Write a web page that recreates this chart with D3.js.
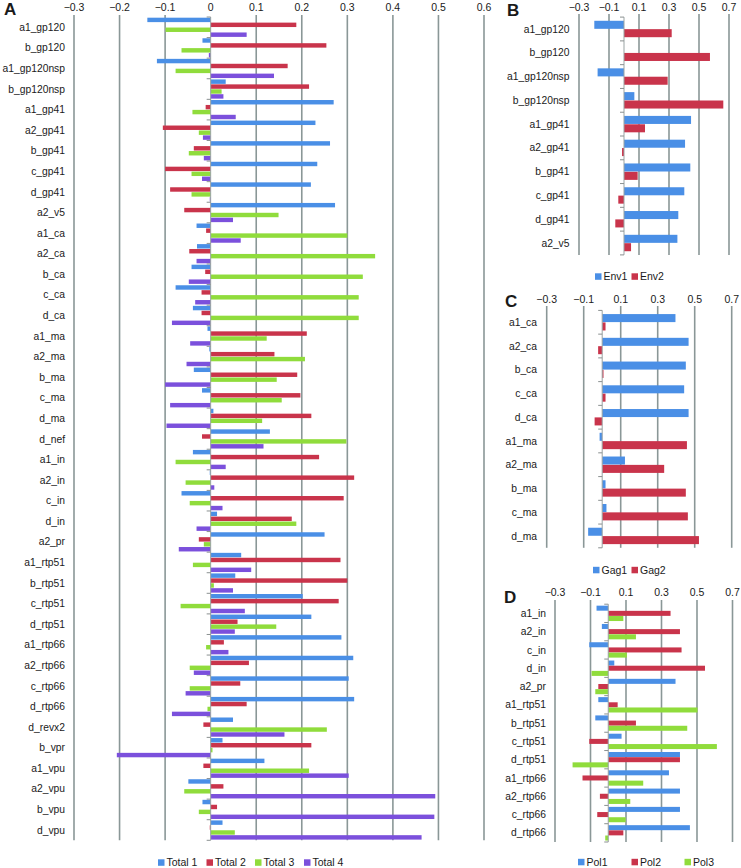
<!DOCTYPE html>
<html>
<head>
<meta charset="utf-8">
<script src="https://cdn.jsdelivr.net/npm/d3@7"></script>
<style>
  html, body { margin: 0; padding: 0; background: #fff; }
  svg { display: block; }
  text { font-family: "Liberation Sans", Arial, sans-serif; fill: #1a1a1a; }
</style>
</head>
<body>
<svg id="chart" width="741" height="868"></svg>
<script>
// ---------- Panel A ----------
const catsA = ["a1_gp120","b_gp120","a1_gp120nsp","b_gp120nsp","a1_gp41","a2_gp41","b_gp41","c_gp41","d_gp41","a2_v5",
  "a1_ca","a2_ca","b_ca","c_ca","d_ca","a1_ma","a2_ma","b_ma","c_ma","d_ma","d_nef","a1_in","a2_in","c_in","d_in","a2_pr",
  "a1_rtp51","b_rtp51","c_rtp51","d_rtp51","a1_rtp66","a2_rtp66","c_rtp66","d_rtp66","d_revx2","b_vpr","a1_vpu","a2_vpu","b_vpu","d_vpu"];
const total1 = [-0.139,-0.018,-0.118,0.033,0.270,0.230,0.262,0.234,0.220,0.273,
  -0.031,-0.030,-0.042,-0.077,-0.039,-0.007,-0.003,-0.037,-0.019,0.006,0.130,-0.039,-0.002,-0.064,0.014,0.250,
  0.067,0.054,0.202,0.221,0.287,0.313,0.303,0.315,0.049,0.026,0.118,-0.049,-0.018,0.026];
const total2 = [0.188,0.254,0.169,0.216,-0.011,-0.105,-0.037,-0.100,-0.089,-0.058,
  -0.010,-0.047,-0.012,-0.020,-0.020,0.211,0.140,0.190,0.197,0.221,-0.019,0.238,0.315,0.292,0.178,-0.026,
  0.285,0.300,0.281,0.059,0.029,0.084,0.065,0.079,-0.016,0.221,-0.016,0.028,0.014,-0.002];
const total3 = [-0.099,-0.064,-0.077,0.024,-0.040,-0.026,-0.048,-0.042,-0.042,0.149,
  0.300,0.361,0.334,0.325,0.325,0.123,0.207,0.145,0.156,0.113,0.298,-0.077,-0.055,-0.046,0.188,-0.015,
  -0.039,0.007,-0.066,0.144,-0.010,-0.046,-0.046,-0.007,0.255,0.004,0.216,-0.058,-0.026,0.053];
const total4 = [0.079,-0.004,0.139,0.028,0.055,-0.017,-0.015,-0.019,-0.002,0.049,
  0.066,-0.031,-0.048,-0.034,-0.085,-0.045,-0.053,-0.100,-0.089,-0.097,0.116,0.033,0.008,0.026,-0.031,-0.070,
  0.089,0.049,0.075,0.053,0.039,-0.037,-0.055,-0.085,0.162,-0.206,0.303,0.493,0.491,0.463];
const seriesA = ["Total 1","Total 2","Total 3","Total 4"];
const ticksA = [-0.3,-0.2,-0.1,0,0.1,0.2,0.3,0.4,0.5,0.6];

// ---------- Panel B ----------
const catsB = ["a1_gp120","b_gp120","a1_gp120nsp","b_gp120nsp","a1_gp41","a2_gp41","b_gp41","c_gp41","d_gp41","a2_v5"];
const env1 = [-0.198,0.0,-0.176,0.069,0.447,0.407,0.442,0.402,0.362,0.356];
const env2 = [0.318,0.573,0.291,0.662,0.140,-0.013,0.091,-0.038,-0.058,0.047];
const seriesB = ["Env1","Env2"];

// ---------- Panel C ----------
const catsC = ["a1_ca","a2_ca","b_ca","c_ca","d_ca","a1_ma","a2_ma","b_ma","c_ma","d_ma"];
const gag1 = [0.396,0.467,0.452,0.443,0.467,-0.014,0.123,0.018,0.023,-0.076];
const gag2 = [0.018,-0.022,0.007,0.018,-0.041,0.458,0.335,0.452,0.463,0.523];
const seriesC = ["Gag1","Gag2"];

// ---------- Panel D ----------
const catsD = ["a1_in","a2_in","c_in","d_in","a2_pr","a1_rtp51","b_rtp51","c_rtp51","d_rtp51","a1_rtp66","a2_rtp66","c_rtp66","d_rtp66"];
const pol1 = [-0.066,-0.036,-0.107,0.034,0.379,-0.056,-0.073,0.075,0.404,0.342,0.404,0.404,0.460];
const pol2 = [0.351,0.404,0.413,0.545,-0.056,0.053,0.156,-0.107,0.404,-0.145,-0.047,-0.062,0.085];
const pol3 = [0.085,0.156,0.105,-0.094,-0.073,0.503,0.445,0.612,-0.201,0.197,0.124,0.098,-0.017];
const seriesD = ["Pol1","Pol2","Pol3"];

const ticksBCD = [-0.3,-0.1,0.1,0.3,0.5,0.7];
const colors = ["#4a8fe6","#c9344b","#90dc3c","#7b50dc"];

const svg = d3.select("#chart");
const fmt = d => d === 0 ? "0" : d3.format(".1f")(d);

function panel(o) {
  const g = svg.append("g");
  const x = d3.scaleLinear().domain(o.domain).range(o.xr);
  const y = d3.scaleBand().domain(o.cats).range(o.yr)
    .paddingInner(o.pad).paddingOuter(o.pad / 2);
  const ys = d3.scaleBand().domain(o.series.map((s, i) => i)).range([0, y.bandwidth()]).paddingInner(o.ipad);

  // gridlines
  g.append("g").selectAll("line").data(o.ticks.filter(t => t !== 0)).join("line")
    .attr("x1", d => x(d)).attr("x2", d => x(d))
    .attr("y1", o.gridTop).attr("y2", o.yr[1])
    .attr("stroke", "#8a9797").attr("stroke-width", 1.6);

  // tick labels (top)
  g.append("g").selectAll("text").data(o.ticks).join("text")
    .attr("x", d => x(d)).attr("y", o.tickY)
    .attr("text-anchor", "middle").attr("font-size", o.tickFs)
    .text(fmt);

  // bars
  o.values.forEach((vals, si) => {
    g.append("g").selectAll("rect").data(vals).join("rect")
      .attr("x", d => x(Math.min(0, d)))
      .attr("width", d => Math.abs(x(d) - x(0)))
      .attr("y", (d, i) => y(o.cats[i]) + ys(si))
      .attr("height", ys.bandwidth())
      .attr("fill", colors[si]);
  });

  // zero axis and ticks
  const z = x(0);
  g.append("line").attr("x1", z).attr("x2", z).attr("y1", o.yr[0]).attr("y2", o.yr[1])
    .attr("stroke", "#9aa3a3").attr("stroke-width", 1);
  const bounds = d3.range(o.cats.length + 1).map(i => o.yr[0] + i * y.step());
  g.append("g").selectAll("line").data(bounds).join("line")
    .attr("x1", z - 4).attr("x2", z).attr("y1", d => d).attr("y2", d => d)
    .attr("stroke", "#8a9090").attr("stroke-width", 1);

  // category labels
  g.append("g").selectAll("text").data(o.cats).join("text")
    .attr("x", o.labelX).attr("y", d => y(d) + y.bandwidth() / 2)
    .attr("dy", "0.35em").attr("text-anchor", "end").attr("font-size", o.labFs)
    .text(d => d);

  // panel letter
  g.append("text").attr("x", o.letter[1]).attr("y", o.letter[2])
    .attr("font-size", 17).attr("font-weight", "bold").attr("fill", "#000")
    .text(o.letter[0]);

  // legend
  const lg = g.append("g");
  o.series.forEach((s, i) => {
    lg.append("rect").attr("x", o.legX[i]).attr("y", o.legY - 3.2).attr("width", 6.5).attr("height", 6.5)
      .attr("fill", colors[i]);
    lg.append("text").attr("x", o.legX[i] + 8.5).attr("y", o.legY).attr("dy", "0.35em")
      .attr("font-size", 10.5).attr("font-family", "'Open Sans', 'Liberation Sans', sans-serif")
      .text(s);
  });
}

panel({
  cats: catsA, values: [total1, total2, total3, total4], series: seriesA,
  domain: [-0.3, 0.6], xr: [74, 484], yr: [17, 840.3], pad: 0.067, ipad: 0.1,
  ticks: ticksA, gridTop: 15, tickY: 10.5, tickFs: 10.5, labelX: 65, labFs: 10.3,
  letter: ["A", 4, 15], legX: [158, 206.5, 255, 304], legY: 862.5
});
panel({
  cats: catsB, values: [env1, env2], series: seriesB,
  domain: [-0.3, 0.7], xr: [579, 729], yr: [17.1, 254.9], pad: 0.31, ipad: 0.04,
  ticks: ticksBCD, gridTop: 14, tickY: 10.5, tickFs: 10.5, labelX: 569.5, labFs: 10.3,
  letter: ["B", 507, 16], legX: [595, 631.5], legY: 276.5
});
panel({
  cats: catsC, values: [gag1, gag2], series: seriesC,
  domain: [-0.3, 0.7], xr: [546.7, 731.7], yr: [310.4, 547.8], pad: 0.31, ipad: 0.04,
  ticks: ticksBCD, gridTop: 306, tickY: 303, tickFs: 10.5, labelX: 537, labFs: 10.3,
  letter: ["C", 505, 306.5], legX: [593, 631.5], legY: 570
});
panel({
  cats: catsD, values: [pol1, pol2, pol3], series: seriesD,
  domain: [-0.3, 0.7], xr: [555, 732.5], yr: [604.2, 842], pad: 0.16, ipad: 0.03,
  ticks: ticksBCD, gridTop: 600, tickY: 596, tickFs: 10.5, labelX: 546, labFs: 10.3,
  letter: ["D", 504, 602.5], legX: [578, 631.5, 684.5], legY: 862
});
</script>
</body>
</html>
